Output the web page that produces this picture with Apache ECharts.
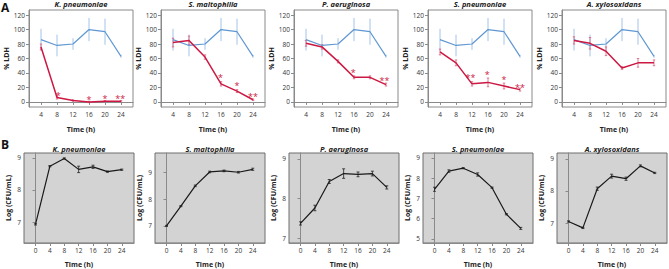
<!DOCTYPE html>
<html lang="en">
<head>
<meta charset="utf-8">
<title>LDH release and bacterial growth</title>
<script src="https://cdn.jsdelivr.net/npm/echarts@6/dist/echarts.min.js"></script>
</head>
<body style="margin:0;background:#fff">
<div id="container" style="width:669px;height:269px"></div>
<script type="text/javascript">
// --- data ---
const speciesNames = ['K. pneumoniae', 'S. maltophilia', 'P. aeruginosa', 'S. pneumoniae', 'A. xylosoxidans'];

// panel A: % LDH
const hoursA = [4, 8, 12, 16, 20, 24];
const ldhControl = [86, 78, 80, 100, 97, 63];
const ldhControlErr = [15, 15, 8, 16, 18, 2];
const ldhK = [76, 6, 2, 0, 1, 1];
const ldhSm = [82, 85, 62, 25, 15, 3];
const ldhPa = [81, 76, 56, 34, 34, 24];
const ldhSp = [69, 54, 25, 27, 22, 17];
const ldhAx = [85, 81, 70, 47, 54, 54];
const ldhKErr = [4, 2, 1, 1, 1, 1];
const ldhSmErr = [6, 6, 3, 3, 2, 1];
const ldhPaErr = [4, 3, 2, 2, 2, 2];
const ldhSpErr = [4, 4, 3, 6, 4, 2];
const ldhAxErr = [5, 8, 6, 2, 6, 4];
const starsK = [[8.3, 11, '*'], [16, 6, '*'], [20, 8, '*'], [23.8, 8, '**']];
const starsSm = [[15.9, 36, '*'], [20, 25, '*'], [24, 10, '**']];
const starsPa = [[15.8, 44, '*'], [23.6, 32, '**']];
const starsSp = [[11.6, 36, '**'], [15.8, 41, '*'], [20, 34, '*'], [24, 23, '**']];
const starsAx = [];
const ticksAx = [4, 8, 12, 16, 20, 24];
const ticksAy = [0, 20, 40, 60, 80, 100, 120];

// panel B: Log (CFU/mL)
const hoursB = [0, 4, 8, 12, 16, 20, 24];
const cfuK = [6.93, 8.74, 8.98, 8.64, 8.72, 8.57, 8.63];
const cfuSm = [7.0, 7.74, 8.5, 9.02, 9.06, 9.01, 9.12];
const cfuPa = [7.37, 7.76, 8.43, 8.63, 8.61, 8.63, 8.28];
const cfuSp = [7.45, 8.35, 8.49, 8.18, 7.53, 6.22, 5.52];
const cfuAx = [7.05, 6.85, 8.07, 8.46, 8.38, 8.78, 8.56];
const cfuKErr = [0.02, 0.02, 0.02, 0.1, 0.05, 0.02, 0.02];
const cfuSmErr = [0.02, 0.02, 0.03, 0.03, 0.03, 0.03, 0.04];
const cfuPaErr = [0.04, 0.07, 0.05, 0.12, 0.06, 0.06, 0.04];
const cfuSpErr = [0.1, 0.06, 0.03, 0.08, 0.03, 0.03, 0.05];
const cfuAxErr = [0.02, 0.02, 0.05, 0.06, 0.05, 0.03, 0.02];
const ticksBx = [0, 4, 8, 12, 16, 20, 24];
const ticksBy = [[7, 8, 9], [7, 8, 9], [7, 8, 9], [5, 6, 7, 8, 9], [7, 8, 9]];

const ldhInfected = [ldhK, ldhSm, ldhPa, ldhSp, ldhAx];
const ldhInfectedErr = [ldhKErr, ldhSmErr, ldhPaErr, ldhSpErr, ldhAxErr];
const stars = [starsK, starsSm, starsPa, starsSp, starsAx];
const cfu = [cfuK, cfuSm, cfuPa, cfuSp, cfuAx];
const cfuErr = [cfuKErr, cfuSmErr, cfuPaErr, cfuSpErr, cfuAxErr];

// --- layout ---
const leftA = [29, 161, 294, 428, 562], widthA = 104, topA = 10, heightA = 97;
const leftB = [24, 155, 289, 423, 557], widthB = 110, topB = 153, heightB = 91;
const rangeB = [[6.35, 9.15], [6.36, 9.73], [6.875, 9.15], [4.8, 9.24], [6.38, 9.18]];

const FONT = 'Open Sans, Noto Sans, sans-serif';
const BLUE = '#5f97d2', BLUE_ERR = '#a3c4e8', RED = '#cc1842';

function errRender(cap, lw) {
	return function (params, api) {
		const x = api.value(0);
		const lo = api.coord([x, api.value(1)]);
		const hi = api.coord([x, api.value(2)]);
		const style = { stroke: api.visual('color'), lineWidth: lw };
		return {
			type: 'group',
			children: [
				{ type: 'line', shape: { x1: lo[0], y1: lo[1], x2: hi[0], y2: hi[1] }, style: style },
				{ type: 'line', shape: { x1: lo[0] - cap, y1: lo[1], x2: lo[0] + cap, y2: lo[1] }, style: style },
				{ type: 'line', shape: { x1: hi[0] - cap, y1: hi[1], x2: hi[0] + cap, y2: hi[1] }, style: style }
			]
		};
	};
}

function axisBase(ticks, fs) {
	return {
		axisLine: { show: true, lineStyle: { color: '#8a8a8a' } },
		axisTick: { show: true, length: 3, customValues: ticks, lineStyle: { color: '#8a8a8a' } },
		axisLabel: { customValues: ticks, fontSize: fs, color: '#333', fontFamily: FONT, margin: 4 },
		splitLine: { show: false }
	};
}

const nameStyle = { fontSize: 7, fontWeight: 'bold', fontFamily: FONT, color: '#222' };
const grid = [], xAxis = [], yAxis = [], series = [], graphic = [];

for (let i = 0; i < 5; i++) {
	const a = 2 * i, b = 2 * i + 1;

	// panel A
	grid.push({ left: leftA[i], top: topA, width: widthA, height: heightA, show: true, backgroundColor: '#fff', borderColor: '#8a8a8a', borderWidth: 1 });
	xAxis.push(Object.assign(axisBase(ticksAx, 6.5), {
		type: 'value', gridIndex: a, min: 1, max: 27,
		name: 'Time (h)', nameLocation: 'middle', nameGap: 19, nameTextStyle: nameStyle
	}));
	yAxis.push(Object.assign(axisBase(ticksAy, 6.5), {
		type: 'value', gridIndex: a, min: -7, max: 127,
		name: '% LDH', nameLocation: 'middle', nameGap: 18, nameTextStyle: nameStyle
	}));

	// panel B
	grid.push({ left: leftB[i], top: topB, width: widthB, height: heightB, show: true, backgroundColor: '#d3d3d3', borderColor: '#6f6f6f', borderWidth: 1 });
	xAxis.push(Object.assign(axisBase(ticksBx, 6.5), {
		type: 'value', gridIndex: b, min: -3.2, max: 27.4,
		name: 'Time (h)', nameLocation: 'middle', nameGap: 18, nameTextStyle: nameStyle
	}));
	const yb = Object.assign(axisBase(ticksBy[i], 6.5), {
		type: 'value', gridIndex: b, min: rangeB[i][0], max: rangeB[i][1],
		name: 'Log (CFU/mL)', nameLocation: 'middle', nameGap: 12, nameTextStyle: nameStyle
	});
	yb.axisLabel.margin = 3;
	yAxis.push(yb);

	series.push({
		type: 'custom', xAxisIndex: a, yAxisIndex: a, itemStyle: { color: BLUE_ERR }, silent: true,
		renderItem: errRender(0, 1), encode: { x: 0, y: [1, 2] },
		data: hoursA.map((h, k) => [h, ldhControl[k] - ldhControlErr[k], ldhControl[k] + ldhControlErr[k]])
	});
	series.push({
		type: 'line', xAxisIndex: a, yAxisIndex: a, symbol: 'none', silent: true,
		lineStyle: { color: BLUE, width: 1.2 },
		data: hoursA.map((h, k) => [h, ldhControl[k]])
	});
	series.push({
		type: 'custom', xAxisIndex: a, yAxisIndex: a, itemStyle: { color: '#d8607c' }, silent: true,
		renderItem: errRender(1.2, 0.8), encode: { x: 0, y: [1, 2] },
		data: hoursA.map((h, k) => [h, ldhInfected[i][k] - ldhInfectedErr[i][k], ldhInfected[i][k] + ldhInfectedErr[i][k]])
	});
	series.push({
		type: 'line', xAxisIndex: a, yAxisIndex: a, symbol: 'none', silent: true,
		lineStyle: { color: RED, width: 1.5 },
		data: hoursA.map((h, k) => [h, ldhInfected[i][k]])
	});
	series.push({
		type: 'custom', xAxisIndex: a, yAxisIndex: a, silent: true,
		renderItem: function (params, api) {
			const p = api.coord([api.value(0), api.value(1)]);
			return { type: 'text', x: p[0], y: p[1] + 2, style: { text: stars[i][params.dataIndex][2], fill: RED, font: '9px ' + FONT, align: 'center', verticalAlign: 'middle' } };
		},
		encode: { x: 0, y: 1 },
		data: stars[i].map(s => [s[0], s[1]])
	});
	series.push({
		type: 'custom', xAxisIndex: b, yAxisIndex: b, itemStyle: { color: '#222' }, silent: true,
		renderItem: errRender(1.5, 0.8), encode: { x: 0, y: [1, 2] },
		data: hoursB.map((h, k) => [h, cfu[i][k] - cfuErr[i][k], cfu[i][k] + cfuErr[i][k]])
	});
	series.push({
		type: 'line', xAxisIndex: b, yAxisIndex: b, symbol: 'none', silent: true,
		lineStyle: { color: '#1a1a1a', width: 1.2 },
		data: hoursB.map((h, k) => [h, cfu[i][k]])
	});

	graphic.push({ type: 'text', x: leftA[i] + widthA / 2, y: 4, style: { text: speciesNames[i], font: 'italic bold 7.5px ' + FONT, fill: '#222', align: 'center', verticalAlign: 'middle' } });
	graphic.push({ type: 'text', x: leftB[i] + widthB / 2, y: topB - 4, style: { text: speciesNames[i], font: 'italic bold 7.5px ' + FONT, fill: '#222', align: 'center', verticalAlign: 'middle' } });
}

graphic.push({ type: 'text', x: 1, y: 1, style: { text: 'A', font: 'bold 12px ' + FONT, fill: '#111' } });
graphic.push({ type: 'text', x: 1, y: 138, style: { text: 'B', font: 'bold 12px ' + FONT, fill: '#111' } });

var dom = document.getElementById('container');
var myChart = echarts.init(dom, null, { renderer: 'svg' });
var option = {
	animation: false,
	backgroundColor: '#fff',
	grid: grid,
	xAxis: xAxis,
	yAxis: yAxis,
	series: series,
	graphic: graphic
};
myChart.setOption(option);
</script>
</body>
</html>
